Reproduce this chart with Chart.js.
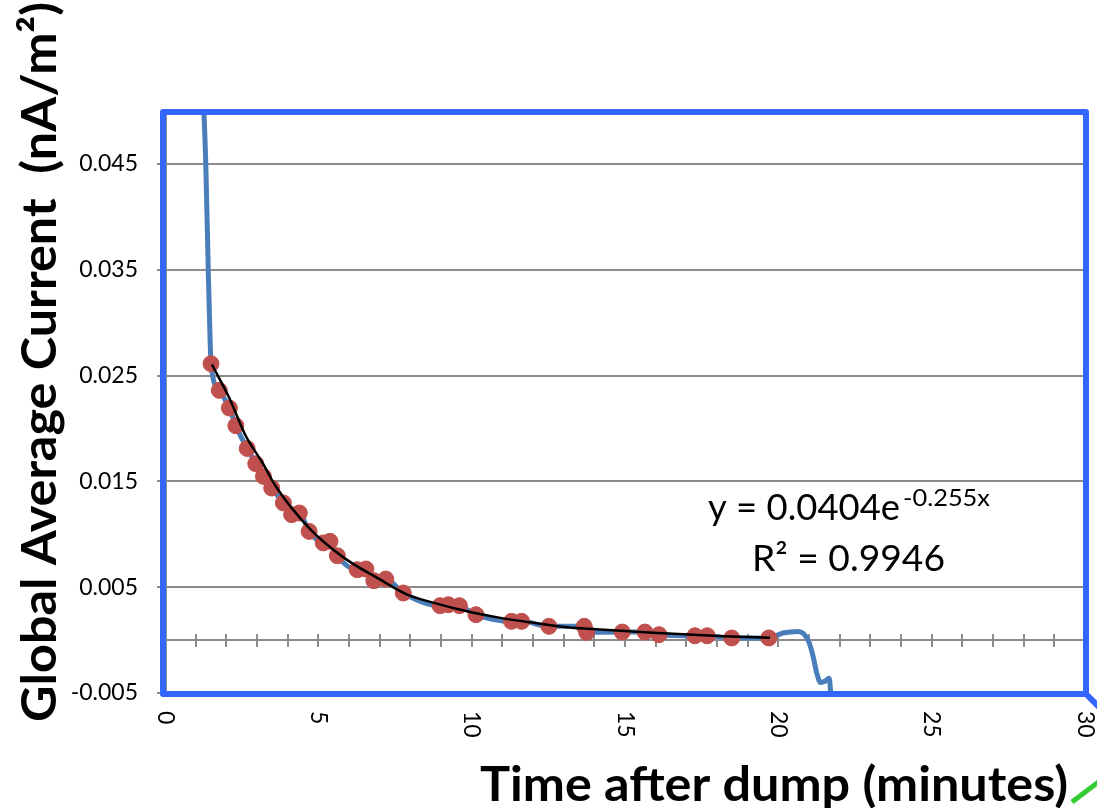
<!DOCTYPE html>
<html>
<head>
<meta charset="utf-8">
<script src="https://cdn.jsdelivr.net/npm/chart.js@4.4.0/dist/chart.umd.min.js"></script>
<style>
  html, body { margin: 0; padding: 0; background: #fff; }
</style>
</head>
<body>
<canvas id="chart" width="1097" height="808"></canvas>
<script>
// Values (minutes, nA/m2)

// red markers: points used for the fit
const dotX = [1.50, 1.77, 2.10, 2.31, 2.68, 2.96, 3.21, 3.48, 3.86, 4.13, 4.38, 4.70,
              5.16, 5.38, 5.62, 6.27, 6.55, 6.81, 7.20, 7.77, 8.97, 9.24, 9.60, 10.14,
              11.30, 11.63, 12.52, 13.67, 13.75, 14.91, 15.65, 16.11, 17.28, 17.68, 18.48, 19.69];
const dotY = [0.02612, 0.02360, 0.02193, 0.02026, 0.01811, 0.01667, 0.01547, 0.01437, 0.01296, 0.01185, 0.01201, 0.01027,
              0.00918, 0.00933, 0.00797, 0.00665, 0.00672, 0.00561, 0.00577, 0.00445, 0.00325, 0.00334, 0.00325, 0.00240,
              0.00177, 0.00177, 0.00130, 0.00130, 0.00073, 0.00076, 0.00076, 0.00051, 0.00041, 0.00041, 0.00020, 0.00020];

// blue smoothed trace: head before the markers and tail after them
const headX = [1.24, 1.33, 1.41, 1.47];
const headY = [0.0520, 0.0450, 0.0350, 0.0284];
const tailX = [20.15, 20.65, 20.97, 21.14, 21.25, 21.38, 21.52, 21.66, 21.72];
const tailY = [0.00067, 0.00082, 0.00000, -0.00160, -0.00310, -0.00400, -0.00390, -0.00360, -0.00560];

// black exponential trend line
const trendX = [1.53, 2.09, 2.64, 3.18, 3.61, 4.75, 5.84, 6.92, 7.90, 8.77, 9.85, 10.94,
                12.02, 13.11, 14.19, 16.04, 18.21, 19.73];
const trendY = [0.02604, 0.02292, 0.01926, 0.01675, 0.01454, 0.01044, 0.00777, 0.00588, 0.00430, 0.00352, 0.00272, 0.00210,
                0.00163, 0.00121, 0.00099, 0.00068, 0.00036, 0.00021];

const xTicks = [0, 5, 10, 15, 20, 25, 30];
const yTicks = [-0.005, 0.005, 0.015, 0.025, 0.035, 0.045];

const xTitle = 'Time after dump (minutes)';
const yTitle = 'Global Average Current  (nA/m\u00B2)';
const eqMain = 'y = 0.0404e';
const eqExp = '-0.255x';
const eqR2 = 'R\u00B2 = 0.9946';

const toPts = (xs, ys) => xs.map((v, i) => ({ x: v, y: ys[i] }));
const dots = toPts(dotX, dotY);
const curve = toPts(headX, headY).concat(dots, toPts(tailX, tailY));
const trend = toPts(trendX, trendY);

// draw text squeezed/stretched along its direction to a given length
function fitText(ctx, text, len) {
  const w = ctx.measureText(text).width;
  ctx.scale(len / w, 1);
  ctx.fillText(text, 0, 0);
}

const decor = {
  id: 'decor',
  beforeDatasetsDraw(chart) {
    const { ctx, chartArea: a, scales: { x, y } } = chart;
    const y0 = Math.round(y.getPixelForValue(0));
    ctx.save();
    ctx.strokeStyle = '#8c8c8c';
    ctx.lineWidth = 2;
    ctx.beginPath();
    ctx.moveTo(a.left, y0);
    ctx.lineTo(a.right, y0);
    for (let m = 1; m <= 30; m++) {
      const px = Math.round(x.getPixelForValue(m));
      ctx.moveTo(px, y0 - 6);
      ctx.lineTo(px, y0 + 7);
    }
    // thin axis line inside the blue frame
    ctx.moveTo(a.left + 1, a.top);
    ctx.lineTo(a.left + 1, a.bottom);
    ctx.stroke();
    ctx.restore();
  },
  afterDatasetsDraw(chart) {
    const { ctx, chartArea: a } = chart;
    ctx.save();
    ctx.strokeStyle = '#3366ff';
    ctx.lineWidth = 6;
    ctx.lineJoin = 'round';
    ctx.strokeRect(a.left - 2, a.top + 1, a.right - a.left + 3, a.bottom - a.top);
    ctx.beginPath();
    ctx.moveTo(a.right + 1, a.bottom + 1);
    ctx.lineTo(a.right + 16, a.bottom + 16);
    ctx.stroke();
    ctx.strokeStyle = '#33cc33';
    ctx.lineWidth = 5;
    ctx.beginPath();
    ctx.moveTo(a.right - 13, a.bottom + 109);
    ctx.lineTo(a.right + 16, a.bottom + 87);
    ctx.stroke();
    ctx.restore();
  },
  afterDraw(chart) {
    const { ctx, scales: { x } } = chart;
    ctx.save();
    ctx.fillStyle = '#000';

    // x tick labels, turned clockwise
    ctx.font = '23px Lato';
    ctx.textAlign = 'left';
    ctx.textBaseline = 'middle';
    xTicks.forEach(v => {
      ctx.save();
      ctx.translate(x.getPixelForValue(v), 711);
      ctx.rotate(Math.PI / 2);
      ctx.fillText(String(v), 0, 0);
      ctx.restore();
    });

    // axis titles
    ctx.textBaseline = 'alphabetic';
    ctx.font = 'bold 48px Lato';
    ctx.save();
    ctx.translate(480, 801);
    fitText(ctx, xTitle, 588);
    ctx.restore();

    ctx.save();
    ctx.translate(56, 722);
    ctx.rotate(-Math.PI / 2);
    fitText(ctx, yTitle, 720);
    ctx.restore();

    // trend line equation
    ctx.font = '36px Lato';
    ctx.save();
    ctx.translate(708, 520);
    fitText(ctx, eqMain, 192);
    ctx.restore();
    ctx.font = '23px Lato';
    ctx.save();
    ctx.translate(903, 506);
    fitText(ctx, eqExp, 87);
    ctx.restore();
    ctx.font = '36px Lato';
    ctx.save();
    ctx.translate(752, 571);
    fitText(ctx, eqR2, 193);
    ctx.restore();
    ctx.restore();
  }
};

new Chart(document.getElementById('chart').getContext('2d'), {
  type: 'scatter',
  data: {
    datasets: [
      {
        label: 'Exponential fit',
        data: trend,
        showLine: true,
        borderColor: '#000',
        borderWidth: 2.5,
        pointRadius: 0,
        cubicInterpolationMode: 'monotone',
        order: 0
      },
      {
        label: 'Fit points',
        data: dots,
        showLine: false,
        pointRadius: 8,
        pointBackgroundColor: '#c0504d',
        pointBorderColor: '#c0504d',
        pointBorderWidth: 1,
        order: 1
      },
      {
        label: 'Global average current',
        data: curve,
        showLine: true,
        borderColor: '#4a7ebb',
        borderWidth: 5,
        pointRadius: 0,
        cubicInterpolationMode: 'monotone',
        order: 2
      }
    ]
  },
  options: {
    responsive: false,
    devicePixelRatio: 1,
    animation: false,
    events: [],
    layout: { padding: { left: 0, top: 111, right: 12, bottom: 0 } },
    plugins: {
      legend: { display: false },
      tooltip: { enabled: false }
    },
    scales: {
      x: {
        type: 'linear',
        min: 0,
        max: 30,
        ticks: { display: false },
        grid: { display: false },
        border: { display: false },
        afterFit: s => { s.height = 115; }
      },
      y: {
        type: 'linear',
        min: -0.005,
        max: 0.05,
        afterBuildTicks: s => { s.ticks = yTicks.map(v => ({ value: v })); },
        afterFit: s => { s.width = 165; },
        ticks: {
          color: '#000',
          font: { family: 'Lato', size: 23 },
          padding: 19,
          callback: v => v.toFixed(3)
        },
        grid: { color: '#8c8c8c', lineWidth: 2, tickLength: 8 },
        border: { display: false }
      }
    }
  },
  plugins: [decor]
});
</script>
</body>
</html>
